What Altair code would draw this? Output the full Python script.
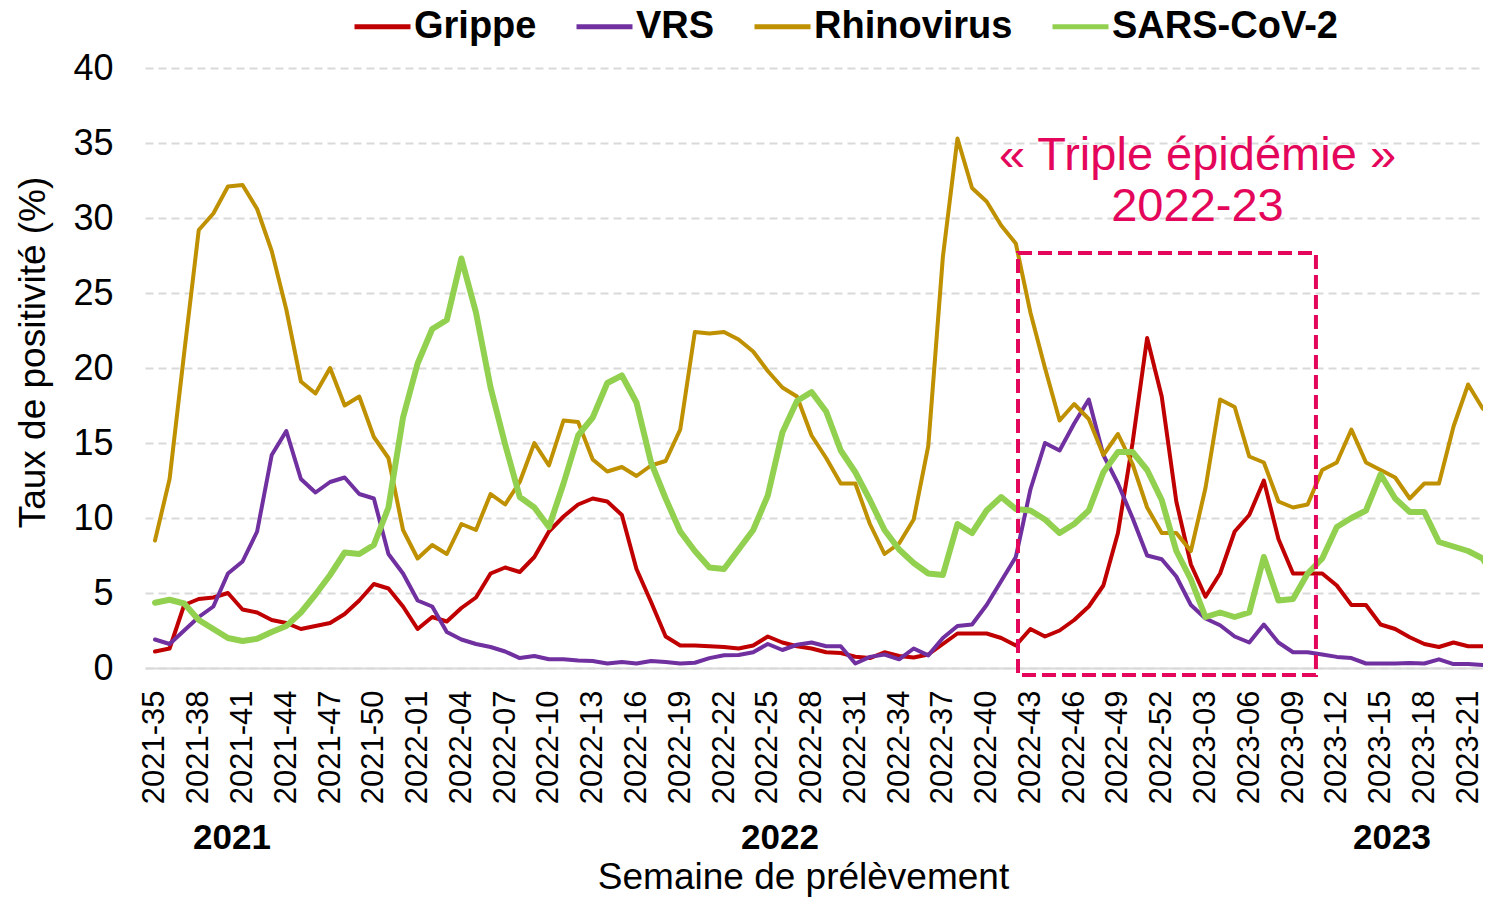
import altair as alt
import pandas as pd

# ---------------- data ----------------
weeks = ([f"2021-{w:02d}" for w in range(35, 53)]
         + [f"2022-{w:02d}" for w in range(1, 53)]
         + [f"2023-{w:02d}" for w in range(1, 24)])

series_names = ["Grippe", "VRS", "Rhinovirus", "SARS-CoV-2"]
series_colors = ["#C00000", "#7030A0", "#BF9000", "#92D050"]

grippe = [1.1, 1.3, 4.2, 4.6, 4.7, 5.0, 3.9, 3.7, 3.2, 3.0,
          2.6, 2.8, 3.0, 3.6, 4.5, 5.6, 5.3, 4.1, 2.6, 3.4,
          3.1, 4.0, 4.7, 6.3, 6.7, 6.4, 7.4, 9.1, 10.1, 10.9,
          11.3, 11.1, 10.2, 6.6, 4.4, 2.1, 1.5, 1.5, 1.45, 1.4,
          1.3, 1.5, 2.1, 1.7, 1.45, 1.3, 1.05, 1.0, 0.75, 0.66,
          1.05, 0.8, 0.7, 0.9, 1.6, 2.3, 2.3, 2.3, 2.0, 1.5,
          2.6, 2.1, 2.5, 3.2, 4.1, 5.5, 9.0, 15.0, 22.0, 18.1,
          11.1, 6.9, 4.75, 6.3, 9.1, 10.2, 12.5, 8.6, 6.3, 6.3,
          6.3, 5.5, 4.2, 4.2, 2.9, 2.6, 2.05, 1.6, 1.4, 1.7,
          1.45, 1.45, 1.3]

vrs = [1.9, 1.6, 2.5, 3.4, 4.1, 6.3, 7.1, 9.1, 14.2, 15.8,
       12.6, 11.7, 12.4, 12.7, 11.6, 11.3, 7.6, 6.3, 4.5, 4.1,
       2.4, 1.9, 1.6, 1.4, 1.1, 0.66, 0.8, 0.58, 0.58, 0.5,
       0.47, 0.3, 0.4, 0.3, 0.47, 0.4, 0.3, 0.35, 0.66, 0.85,
       0.87, 1.05, 1.6, 1.2, 1.55, 1.7, 1.45, 1.45, 0.3, 0.74,
       0.9, 0.58, 1.3, 0.84, 2.0, 2.8, 2.9, 4.2, 5.8, 7.4,
       11.9, 15.0, 14.5, 16.3, 17.9, 14.2, 12.3, 10.0, 7.5, 7.25,
       6.1, 4.2, 3.3, 2.85, 2.1, 1.7, 2.9, 1.7, 1.05, 1.05,
       0.9, 0.74, 0.66, 0.3, 0.3, 0.3, 0.34, 0.3, 0.58, 0.26,
       0.26, 0.2, 0.1]

rhino = [8.5, 12.6, 21.0, 29.2, 30.3, 32.1, 32.2, 30.6, 27.8, 23.9,
         19.1, 18.3, 20.0, 17.5, 18.1, 15.4, 14.0, 9.2, 7.3, 8.2,
         7.6, 9.6, 9.2, 11.6, 10.9, 12.4, 15.0, 13.5, 16.5, 16.4,
         13.9, 13.1, 13.4, 12.8, 13.5, 13.8, 15.9, 22.4, 22.3, 22.4,
         21.9, 21.1, 19.8, 18.7, 18.1, 15.5, 14.0, 12.3, 12.3, 9.6,
         7.6, 8.3, 9.9, 14.8, 27.4, 35.3, 32.0, 31.1, 29.5, 28.3,
         23.7, 20.0, 16.5, 17.6, 16.6, 14.2, 15.6, 13.6, 10.7, 9.0,
         9.0, 7.8, 12.0, 17.9, 17.4, 14.1, 13.7, 11.1, 10.7, 10.9,
         13.2, 13.7, 15.9, 13.7, 13.2, 12.7, 11.3, 12.3, 12.3, 16.1,
         18.9, 17.3, 16.6]

sars = [4.35, 4.55, 4.3, 3.2, 2.6, 2.0, 1.8, 1.95, 2.4, 2.8,
        3.7, 4.9, 6.2, 7.7, 7.6, 8.2, 10.7, 16.7, 20.3, 22.6,
        23.2, 27.3, 23.7, 18.7, 14.9, 11.4, 10.7, 9.4, 12.3, 15.5,
        16.7, 19.0, 19.5, 17.7, 13.7, 11.3, 9.1, 7.8, 6.7, 6.6,
        7.9, 9.2, 11.5, 15.7, 17.8, 18.4, 17.1, 14.5, 13.05, 11.2,
        9.2, 7.9, 7.0, 6.3, 6.2, 9.6, 9.0, 10.5, 11.4, 10.6,
        10.5, 9.9, 9.0, 9.6, 10.5, 13.05, 14.4, 14.4, 13.2, 11.2,
        7.8, 5.9, 3.4, 3.7, 3.4, 3.7, 7.4, 4.5, 4.6, 6.3,
        7.3, 9.4, 10.0, 10.5, 12.9, 11.3, 10.4, 10.4, 8.4, 8.1,
        7.8, 7.3, 5.6]

series_widths = [4, 4, 4, 6]
year_labels = ["2021", "2022", "2023"]
annotation_lines = ["« Triple épidémie »", "2022-23"]

# ---------------- tables ----------------
rows = []
for name, vals in zip(series_names, [grippe, vrs, rhino, sars]):
    for i, v in enumerate(vals):
        rows.append({"idx": i, "week": weeks[i], "series": name, "value": v})
df = pd.DataFrame(rows)

FONT = "Liberation Sans"
CRIMSON = "#E4065A"

label_js = "[" + ",".join(f"'{w}'" for w in weeks) + "]"

x_scale = alt.Scale(domain=[-0.685, 91.02], nice=False, zero=False)
y_scale = alt.Scale(domain=[0, 40], nice=False, zero=True)

x_axis = alt.Axis(
    values=list(range(0, 91, 3)),
    labelExpr=f"{label_js}[datum.value]",
    labelAngle=270, labelFontSize=31, labelFont=FONT, labelColor="#000000",
    labelPadding=22, ticks=False, tickSize=0, grid=False,
    domain=True, domainColor="#D9D9D9", domainWidth=2,
    labelOverlap=False, labelBound=False, labelFlush=False,
    title="Semaine de prélèvement", titleFont=FONT, titleFontSize=37,
    titleFontWeight="normal", titleColor="#000000",
    titleX=658, titleY=220, titleAlign="center", titleBaseline="alphabetic",
)
y_axis = alt.Axis(
    values=list(range(0, 41, 5)), grid=True, gridDash=[8, 5],
    gridColor="#D9D9D9", gridWidth=2, domain=False, ticks=False, tickSize=0,
    labelFontSize=36, labelPadding=32, labelFont=FONT, labelColor="#000000",
    title="Taux de positivité (%)", titleFont=FONT, titleFontSize=37,
    titleFontWeight="normal", titleColor="#000000",
    titleX=-112, titleY=284, titleAngle=270, titleAlign="center",
    titleBaseline="middle",
)

color_enc = alt.Color(
    "series:N",
    scale=alt.Scale(domain=series_names, range=series_colors),
    legend=alt.Legend(
        title=None, orient="none", legendX=207, legendY=-72,
        direction="horizontal", symbolType="stroke", symbolSize=3136,
        symbolStrokeWidth=5, labelFontSize=38, labelFontWeight="bold",
        labelFont=FONT, labelColor="#000000", labelOffset=1, labelLimit=0,
        columnPadding=29, padding=0,
    ),
)

line_layers = []
for s, w in zip(series_names, series_widths):
    line_layers.append(
        alt.Chart(df).transform_filter(alt.datum.series == s)
        .mark_line(clip=True, strokeJoin="round", strokeCap="round", strokeWidth=w)
        .encode(
            x=alt.X("idx:Q", scale=x_scale, axis=x_axis),
            y=alt.Y("value:Q", scale=y_scale, axis=y_axis),
            color=color_enc,
        )
    )

box_df = pd.DataFrame({"idx": [59.15], "idx2": [79.57], "value": [27.67], "value2": [-0.47]})
box = alt.Chart(box_df).mark_rect(
    fillOpacity=0, stroke=CRIMSON, strokeWidth=4, strokeDash=[14, 6], clip=False
).encode(
    x=alt.X("idx:Q", scale=x_scale, axis=x_axis),
    x2="idx2:Q",
    y=alt.Y("value:Q", scale=y_scale, axis=y_axis),
    y2="value2:Q",
)

anno_df = pd.DataFrame({"idx": [71.45, 71.45], "value": [33.2, 29.8], "text": annotation_lines})
anno = alt.Chart(anno_df).mark_text(
    font=FONT, fontSize=47, color=CRIMSON, align="center", baseline="alphabetic"
).encode(
    x=alt.X("idx:Q", scale=x_scale, axis=x_axis),
    y=alt.Y("value:Q", scale=y_scale, axis=y_axis),
    text="text:N",
)

years_df = pd.DataFrame({"idx": [5.28, 42.84, 84.78], "text": year_labels})
years = alt.Chart(years_df).mark_text(
    font=FONT, fontSize=35, fontWeight="bold", color="#000000",
    align="center", baseline="middle",
).encode(
    x=alt.X("idx:Q", scale=x_scale, axis=x_axis),
    y=alt.value(770),
    text="text:N",
)

chart = alt.layer(*line_layers, box, anno, years).properties(
    width=1338, height=600,
    autosize=alt.AutoSizeParams(type="none"),
    padding={"left": 137, "top": 60, "right": 0, "bottom": 231},
).configure_view(strokeOpacity=0)

chart.save("out.html", embed_options={"renderer": "svg", "actions": False})
